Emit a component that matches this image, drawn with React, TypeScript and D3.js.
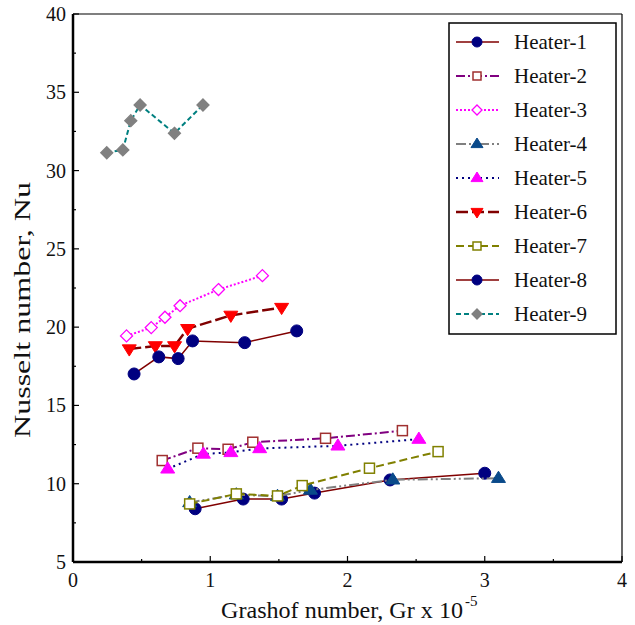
import React from "react";
import * as d3 from "d3";

const W = 635, H = 625;
const M = { left: 73, right: 622, top: 14, bottom: 562 };

const xTicks = [0, 1, 2, 3, 4];
const yTicks = [5, 10, 15, 20, 25, 30, 35, 40];
const xMinor = [0.5, 1.5, 2.5, 3.5];
const yMinor = [7.5, 12.5, 17.5, 22.5, 27.5, 32.5, 37.5];

const names = ["Heater-1", "Heater-2", "Heater-3", "Heater-4", "Heater-5", "Heater-6", "Heater-7", "Heater-8", "Heater-9"];

const h1x = [0.89, 1.24, 1.52, 1.76, 2.31, 3.0];
const h1y = [8.4, 9.02, 9.02, 9.4, 10.24, 10.67];
const h2x = [0.65, 0.91, 1.13, 1.31, 1.84, 2.4];
const h2y = [11.48, 12.27, 12.2, 12.65, 12.9, 13.39];
const h3x = [0.39, 0.57, 0.67, 0.78, 1.06, 1.38];
const h3y = [19.44, 19.97, 20.63, 21.37, 22.4, 23.29];
const h4x = [0.85, 1.19, 1.49, 1.73, 2.33, 3.1];
const h4y = [8.8, 9.3, 9.2, 9.6, 10.25, 10.35];
const h5x = [0.69, 0.95, 1.15, 1.36, 1.93, 2.52];
const h5y = [10.95, 11.9, 12.0, 12.25, 12.42, 12.85];
const h6x = [0.41, 0.6, 0.74, 0.835, 1.15, 1.52];
const h6y = [18.6, 18.8, 18.8, 19.9, 20.75, 21.25];
const h7x = [0.85, 1.19, 1.49, 1.67, 2.16, 2.66];
const h7y = [8.71, 9.35, 9.22, 9.88, 10.99, 12.05];
const h8x = [0.445, 0.625, 0.766, 0.871, 1.251, 1.63];
const h8y = [17.01, 18.1, 17.99, 19.12, 19.01, 19.76];
const h9x = [0.246, 0.363, 0.421, 0.489, 0.739, 0.947];
const h9y = [31.14, 31.32, 33.19, 34.19, 32.38, 34.19];

const seriesX = [h1x, h2x, h3x, h4x, h5x, h6x, h7x, h8x, h9x];
const seriesY = [h1y, h2y, h3y, h4y, h5y, h6y, h7y, h8y, h9y];

type Style = { line: string; dash: string; lw: number; shape: string; fill: string; stroke: string; size: number };
const styles: Style[] = [
  { line: "#800000", dash: "", lw: 1.5, shape: "circle", fill: "#000080", stroke: "#000080", size: 6 },
  { line: "#800080", dash: "9,3,2,3", lw: 2, shape: "square", fill: "#fff", stroke: "#a03030", size: 5 },
  { line: "#ff00ff", dash: "2,2", lw: 2, shape: "diamond", fill: "#fff", stroke: "#ff00ff", size: 6 },
  { line: "#808080", dash: "10,3,2,3,2,3", lw: 2, shape: "triUp", fill: "#0a4a8a", stroke: "#0a4a8a", size: 7 },
  { line: "#000080", dash: "2,4", lw: 2, shape: "triUpM", fill: "#ff00ff", stroke: "#ff00ff", size: 7 },
  { line: "#800000", dash: "12,4", lw: 2.5, shape: "triDown", fill: "#ff0000", stroke: "#ff0000", size: 7 },
  { line: "#808000", dash: "8,4", lw: 2, shape: "square", fill: "#fff", stroke: "#808000", size: 5 },
  { line: "#800000", dash: "", lw: 1.5, shape: "circle", fill: "#000080", stroke: "#000080", size: 6 },
  { line: "#008080", dash: "5,3", lw: 2, shape: "diamond", fill: "#808080", stroke: "#808080", size: 6 },
];

function Marker({ cx, cy, st }: { cx: number; cy: number; st: Style }) {
  const s = st.size;
  if (st.shape === "circle") return <circle cx={cx} cy={cy} r={s} fill={st.fill} stroke={st.stroke} />;
  if (st.shape === "square")
    return <rect x={cx - s} y={cy - s} width={2 * s} height={2 * s} fill={st.fill} stroke={st.stroke} strokeWidth={1.5} />;
  if (st.shape === "diamond")
    return <polygon points={`${cx},${cy - s} ${cx + s},${cy} ${cx},${cy + s} ${cx - s},${cy}`} fill={st.fill} stroke={st.stroke} strokeWidth={1.3} />;
  if (st.shape === "triDown")
    return <polygon points={`${cx - s},${cy - s * 0.6} ${cx + s},${cy - s * 0.6} ${cx},${cy + s}`} fill={st.fill} stroke={st.stroke} />;
  return <polygon points={`${cx - s},${cy + s * 0.6} ${cx + s},${cy + s * 0.6} ${cx},${cy - s}`} fill={st.fill} stroke={st.stroke} />;
}

const FONT = '"Liberation Serif", "Times New Roman", Times, serif';

export default function App() {
  const x = d3.scaleLinear().domain([0, 4]).range([M.left, M.right]);
  const y = d3.scaleLinear().domain([5, 40]).range([M.bottom, M.top]);
  const line = d3.line<[number, number]>().x((d) => x(d[0])).y((d) => y(d[1]));
  const ts = { fontFamily: FONT, fill: "#111" } as React.CSSProperties;

  const legX = 449, legY = 23, legW = 167, legH = 311, rowH = 34, row0 = 42;

  return (
    <div style={{ position: "absolute", left: 0, top: 0 }}>
      <svg width={W} height={H} style={{ display: "block", background: "#fff", fontFamily: FONT }}>
        <rect x={0} y={0} width={W} height={H} fill="#fff" />
        <line x1={M.left} x2={M.right} y1={M.top} y2={M.top} stroke="#000" strokeWidth={1.2} />
        <line x1={M.right} x2={M.right} y1={M.top} y2={M.bottom} stroke="#000" strokeWidth={1.2} />
        {seriesX.map((xs, i) => {
          const pts = xs.map((v, j) => [v, seriesY[i][j]] as [number, number]);
          const st = styles[i];
          return (
            <g key={i}>
              <path d={line(pts) || ""} fill="none" stroke={st.line} strokeWidth={st.lw} strokeDasharray={st.dash} />
              {pts.map((p, j) => (
                <Marker key={j} cx={x(p[0])} cy={y(p[1])} st={st} />
              ))}
            </g>
          );
        })}
        <line x1={M.left} x2={M.left} y1={M.top} y2={M.bottom} stroke="#000" strokeWidth={2.5} />
        <line x1={M.left} x2={M.right} y1={M.bottom} y2={M.bottom} stroke="#000" strokeWidth={2.5} />
        {xTicks.map((t) => (
          <g key={"xt" + t}>
            <line x1={x(t)} x2={x(t)} y1={M.bottom} y2={M.bottom - 6} stroke="#000" strokeWidth={1.2} />
            <text x={x(t)} y={M.bottom + 25} textAnchor="middle" fontSize={20} style={ts}>{t}</text>
          </g>
        ))}
        {xMinor.map((t) => (
          <line key={"xm" + t} x1={x(t)} x2={x(t)} y1={M.bottom} y2={M.bottom - 3} stroke="#000" strokeWidth={1.2} />
        ))}
        {yTicks.map((t) => (
          <g key={"yt" + t}>
            <line x1={M.left} x2={M.left + 6} y1={y(t)} y2={y(t)} stroke="#000" strokeWidth={1.2} />
            <text x={M.left - 7} y={y(t) + 7} textAnchor="end" fontSize={20} style={ts}>{t}</text>
          </g>
        ))}
        {yMinor.map((t) => (
          <line key={"ym" + t} x1={M.left} x2={M.left + 3} y1={y(t)} y2={y(t)} stroke="#000" strokeWidth={1.2} />
        ))}
        <text x={221} y={618} fontSize={23} style={ts} textLength={242} lengthAdjust="spacingAndGlyphs">
          Grashof number, Gr x 10
        </text>
        <text x={465} y={606} fontSize={15} style={ts}>-5</text>
        <text transform={`translate(30,438) rotate(-90)`} fontSize={23} style={ts} textLength={256} lengthAdjust="spacingAndGlyphs">
          Nusselt number, Nu
        </text>
        <rect x={legX} y={legY} width={legW} height={legH} fill="#fff" stroke="#000" strokeWidth={1.5} />
        {names.map((n, i) => {
          const cy = row0 + i * rowH;
          const st = styles[i];
          return (
            <g key={n}>
              <line x1={456} x2={499} y1={cy} y2={cy} stroke={st.line} strokeWidth={st.lw} strokeDasharray={st.dash} />
              <Marker cx={477} cy={cy} st={{ ...st, size: st.size - 1 }} />
              <text x={514} y={cy + 7} fontSize={21} style={ts}>{n}</text>
            </g>
          );
        })}
      </svg>
    </div>
  );
}
